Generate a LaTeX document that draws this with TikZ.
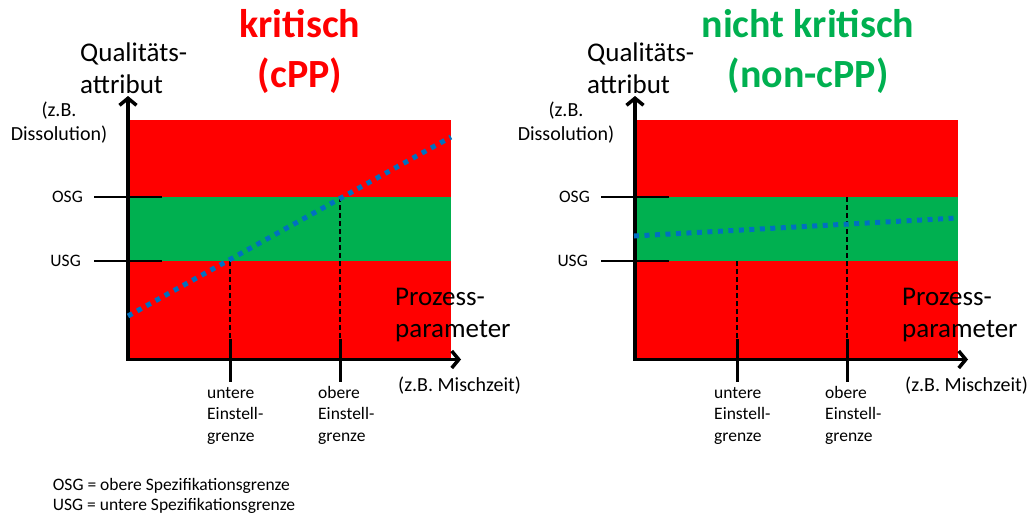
\documentclass[tikz,border=0pt]{standalone}
\usepackage{fontspec}
\setmainfont{Carlito}
\usetikzlibrary{arrows.meta}
\definecolor{cred}{HTML}{FF0000}
\definecolor{cgreen}{HTML}{00B050}
\definecolor{cblue}{HTML}{0070C0}
\newcommand\fsz[2]{\fontsize{#1}{#2}\selectfont}
\newcommand\ml[2]{\begin{tabular}[t]{@{}#1@{}}#2\end{tabular}}
\tikzset{
  axis/.style={line width=3.5pt, line join=miter,
    {Straight Barb[length=7pt,width=17pt]}-{Straight Barb[length=7pt,width=17pt]}},
  limtick/.style={line width=2.5pt},
  settick/.style={line width=3pt},
  guide/.style={line width=1.3pt, dash pattern=on 5pt off 3pt},
  trend/.style={cblue, line width=5pt, dash pattern=on 5pt off 5.5pt},
  big/.style={font=\fsz{27}{32}, inner sep=0, anchor=base west},
  mid/.style={font=\fsz{20}{23.5}, inner sep=0},
  small/.style={font=\fsz{17.5}{21.7}, inner sep=0},
  titletext/.style={font=\bfseries\fsz{40}{50}, inner sep=0, anchor=base},
}
\newcommand\drawpanel[1]{%
  \fill[cred] (129,120) rectangle (451,358);
  \fill[cgreen] (129,197) rectangle (451,261);
  \coordinate (#1o) at (128,359.5);
  \coordinate (#1ytip) at (128,96);
  \coordinate (#1xtip) at (461,359.5);
  \coordinate (#1ua) at (230,261);
  \coordinate (#1ub) at (230,339);
  \coordinate (#1uc) at (230,382);
  \coordinate (#1oa) at (340,197);
  \coordinate (#1ob) at (340,339);
  \coordinate (#1oc) at (340,382);
  \coordinate (#1osgl) at (94,197);
  \coordinate (#1osgr) at (162,197);
  \coordinate (#1usgl) at (94,261);
  \coordinate (#1usgr) at (162,261);
  \draw[guide] (#1ua) -- (#1ub);
  \draw[guide] (#1oa) -- (#1ob);
  \draw[settick] (#1ub) -- (#1uc);
  \draw[settick] (#1ob) -- (#1oc);
  \draw[limtick] (#1osgl) -- (#1osgr);
  \draw[limtick] (#1usgl) -- (#1usgr);
  \draw[axis] (#1ytip) -- (#1o) -- (#1xtip);
  \node[small, anchor=east] (#1osg) at (83,197) {OSG};
  \node[small, anchor=east] (#1usg) at (81,261) {USG};
  \node[mid, anchor=base] (#1qex) at (59,116.7) {\ml{c}{(z.B.\\Dissolution)}};
  \node[big] (#1qlab) at (80,61.5) {\ml{l}{Qualitäts-\\attribut}};
  \node[big] (#1plab) at (395,305) {\ml{l}{Prozess-\\parameter}};
  \node[mid, anchor=base west] (#1pex) at (398,391.7) {(z.B. Mischzeit)};
  \node[small, anchor=base west] (#1ueg) at (207,398) {\ml{l}{untere\\Einstell-\\grenze}};
  \node[small, anchor=base west] (#1oeg) at (318,398) {\ml{l}{obere\\Einstell-\\grenze}};
}
\begin{document}
\begin{tikzpicture}[x=1pt,y=-1pt]
  \useasboundingbox (0,0) rectangle (1032,517);
  \drawpanel{L}
  \begin{scope}[xshift=507pt]
    \drawpanel{R}
  \end{scope}
  \coordinate (Lt0) at (128,316);
  \coordinate (Lt1) at (451,137);
  \coordinate (Rt0) at (634,236);
  \coordinate (Rt1) at (957,218);
  \draw[trend] (Lt0) -- (Lt1);
  \draw[trend] (Rt0) -- (Rt1);
  \node[titletext, text=cred] (t1) at (300,37.7) {\ml{c}{kritisch\\(cPP)}};
  \node[titletext, text=cgreen] (t2) at (808,37.7) {\ml{c}{nicht kritisch\\(non-cPP)}};
  \node[font=\fsz{17.5}{20}, inner sep=0, anchor=base west] (legend) at (52.7,490.7)
    {\ml{l}{OSG = obere Spezifikationsgrenze\\USG = untere Spezifikationsgrenze}};
\end{tikzpicture}
\end{document}
